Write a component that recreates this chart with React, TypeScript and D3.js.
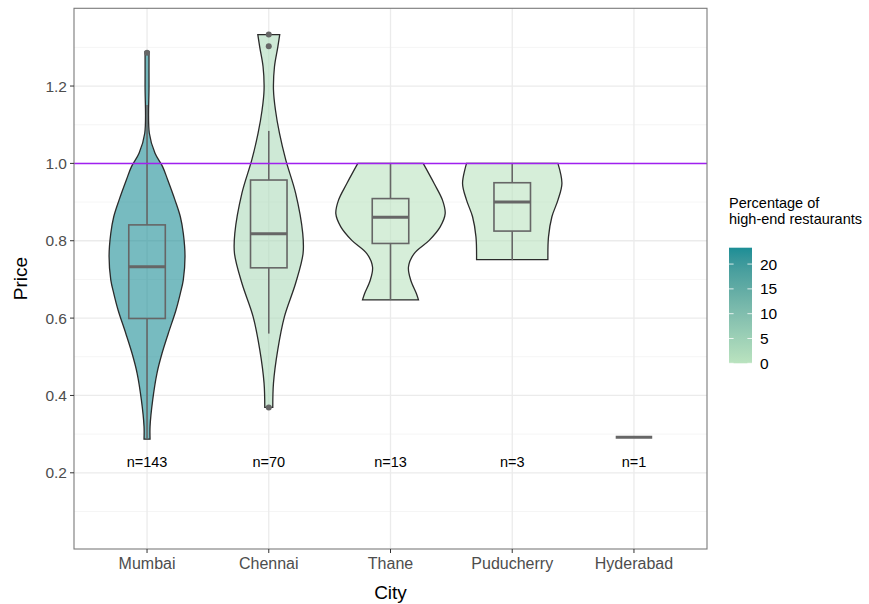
import { useEffect, useRef } from 'react'
import { select, scalePoint, scaleLinear, area, curveCatmullRom, interpolateLab, range } from 'd3'

// data
const cities = ['Mumbai', 'Chennai', 'Thane', 'Puducherry', 'Hyderabad']
const counts = [143, 70, 13, 3, 1]
const pctHighEnd = [23.3, 2.3, 0, 0, 0]
const pctRange = [0, 23.3]
const legendTicks = [0, 5, 10, 15, 20]
const yTicks = [0.2, 0.4, 0.6, 0.8, 1.0, 1.2]
const yMinor = [0.1, 0.3, 0.5, 0.7, 0.9, 1.1, 1.3]
const refLine = 1.0

// [lower whisker, q1, median, q3, upper whisker]
const boxStats = [
  [0.287, 0.599, 0.733, 0.841, 1.151],
  [0.56, 0.73, 0.818, 0.957, 1.084],
  [0.647, 0.793, 0.861, 0.909, 1.0],
  [0.75, 0.825, 0.9, 0.95, 1.0],
  [0.292, 0.292, 0.292, 0.292, 0.292],
]
const outliers = [
  [1.286],
  [1.303, 1.333, 0.369],
  [],
  [],
  [],
]

// violin outlines: [price, relative density]
const mumbaiViolin = [
  [1.289, 0.036], [1.2, 0.036], [1.078, 0.042], [1.026, 0.146], [0.991, 0.286],
  [0.957, 0.378], [0.905, 0.511], [0.862, 0.608], [0.819, 0.662], [0.759, 0.693],
  [0.699, 0.662], [0.664, 0.608], [0.621, 0.529], [0.561, 0.389], [0.509, 0.274],
  [0.458, 0.182], [0.389, 0.104], [0.32, 0.055], [0.287, 0.055],
]
const chennaiViolin = [
  [1.333, 0.2], [1.3, 0.164], [1.25, 0.104], [1.19, 0.086], [1.138, 0.122],
  [1.078, 0.195], [1.009, 0.31], [0.923, 0.49], [0.819, 0.62], [0.767, 0.626],
  [0.69, 0.49], [0.604, 0.286], [0.518, 0.164], [0.432, 0.086], [0.369, 0.073],
]
const thaneViolin = [
  [1.0, 0.597], [0.948, 0.797], [0.905, 0.949], [0.87, 0.998], [0.836, 0.907],
  [0.801, 0.706], [0.767, 0.432], [0.732, 0.328], [0.698, 0.37], [0.663, 0.474],
  [0.647, 0.511],
]
const puducherryViolin = [
  [1.0, 0.834], [0.948, 0.907], [0.905, 0.834], [0.862, 0.724], [0.81, 0.662],
  [0.751, 0.651],
]
const violins = [mumbaiViolin, chennaiViolin, thaneViolin, puducherryViolin, []]

function App() {
  const svg_ref = useRef<SVGSVGElement>(null)
  const width = 869,
        height = 604
  const panel = { left: 74, top: 8.3, right: 707, bottom: 549 }
  const font = '"Liberation Sans", Arial, sans-serif'
  const lowCol = '#bae3bf',
        highCol = '#1c8e96'

  useEffect(() => {
    const svg = select(svg_ref.current)
    svg.selectAll('*').remove()
    svg.attr('width', width).attr('height', height).attr('viewBox', `0 0 ${width} ${height}`)
      .style('font-family', font)

    const x = scalePoint<string>().domain(cities).range([panel.left, panel.right]).padding(0.6)
    const y = scaleLinear([0.003, 1.401], [panel.bottom, panel.top])
    const w = scaleLinear([0, 1], [0, x.step() * 0.45])
    const fillScale = scaleLinear<number>(pctRange, [0, 1])
    const fillOf = (p: number) => interpolateLab(lowCol, highCol)(fillScale(p))

    // panel background + grid
    svg.append('rect')
      .attr('x', panel.left).attr('y', panel.top)
      .attr('width', panel.right - panel.left).attr('height', panel.bottom - panel.top)
      .attr('fill', 'white')

    svg.selectAll('.minor').data(yMinor).join('line')
      .attr('x1', panel.left).attr('x2', panel.right)
      .attr('y1', d => y(d)).attr('y2', d => y(d))
      .attr('stroke', '#f3f3f3').attr('stroke-width', 0.8)
    svg.selectAll('.major').data(yTicks).join('line')
      .attr('x1', panel.left).attr('x2', panel.right)
      .attr('y1', d => y(d)).attr('y2', d => y(d))
      .attr('stroke', '#ebebeb').attr('stroke-width', 1.3)
    svg.selectAll('.vmajor').data(cities).join('line')
      .attr('x1', d => x(d)!).attr('x2', d => x(d)!)
      .attr('y1', panel.top).attr('y2', panel.bottom)
      .attr('stroke', '#ebebeb').attr('stroke-width', 1.3)

    // violins
    const violinArea = area<number[]>()
      .y(d => y(d[0]))
      .curve(curveCatmullRom)
    cities.forEach((c, i) => {
      if (!violins[i].length) return
      const cx = x(c)!
      svg.append('path')
        .attr('d', violinArea.x0(d => cx - w(d[1])).x1(d => cx + w(d[1]))(violins[i]))
        .attr('fill', fillOf(pctHighEnd[i]))
        .attr('fill-opacity', 0.6)
        .attr('stroke', '#2b2b2b')
        .attr('stroke-width', 1.3)
    })

    // boxplots
    const bw = x.step() * 0.3
    cities.forEach((c, i) => {
      const cx = x(c)!
      const [lo, q1, med, q3, hi] = boxStats[i]
      const g = svg.append('g').attr('stroke', '#666666').attr('fill', 'none')
      g.append('line').attr('x1', cx).attr('x2', cx).attr('y1', y(q3)).attr('y2', y(hi)).attr('stroke-width', 1.6)
      g.append('line').attr('x1', cx).attr('x2', cx).attr('y1', y(q1)).attr('y2', y(lo)).attr('stroke-width', 1.6)
      g.append('rect')
        .attr('x', cx - bw / 2).attr('width', bw)
        .attr('y', y(q3)).attr('height', Math.max(0, y(q1) - y(q3)))
        .attr('stroke-width', 1.6)
      g.append('line')
        .attr('x1', cx - bw / 2).attr('x2', cx + bw / 2)
        .attr('y1', y(med)).attr('y2', y(med))
        .attr('stroke-width', 3)
      g.selectAll('circle').data(outliers[i]).join('circle')
        .attr('cx', cx).attr('cy', d => y(d)).attr('r', 3)
        .attr('fill', '#666666').attr('stroke', 'none')
    })

    // reference line
    svg.append('line')
      .attr('x1', panel.left).attr('x2', panel.right)
      .attr('y1', Math.round(y(refLine)) + 0.5).attr('y2', Math.round(y(refLine)) + 0.5)
      .attr('stroke', '#a020f0').attr('stroke-width', 1.5)

    // n labels
    svg.selectAll('.nlab').data(cities).join('text')
      .attr('x', d => x(d)!).attr('y', y(0.228))
      .attr('text-anchor', 'middle').attr('dominant-baseline', 'central')
      .attr('font-size', 14.5).attr('fill', '#000')
      .text((d, i) => `n=${counts[i]}`)

    // border
    svg.append('rect')
      .attr('x', panel.left).attr('y', panel.top)
      .attr('width', panel.right - panel.left).attr('height', panel.bottom - panel.top)
      .attr('fill', 'none').attr('stroke', '#7a7a7a').attr('stroke-width', 1.1)

    // y axis
    const ya = svg.append('g')
    ya.selectAll('line').data(yTicks).join('line')
      .attr('x1', panel.left - 4).attr('x2', panel.left)
      .attr('y1', d => y(d)).attr('y2', d => y(d))
      .attr('stroke', '#333')
    ya.selectAll('text').data(yTicks).join('text')
      .attr('x', panel.left - 7).attr('y', d => y(d))
      .attr('text-anchor', 'end').attr('dominant-baseline', 'central')
      .attr('font-size', 15.5).attr('fill', '#4d4d4d')
      .text(d => d.toFixed(1))

    // x axis
    const xa = svg.append('g')
    xa.selectAll('line').data(cities).join('line')
      .attr('x1', d => x(d)!).attr('x2', d => x(d)!)
      .attr('y1', panel.bottom).attr('y2', panel.bottom + 4)
      .attr('stroke', '#333')
    xa.selectAll('text').data(cities).join('text')
      .attr('x', d => x(d)!).attr('y', panel.bottom + 20)
      .attr('text-anchor', 'middle')
      .attr('font-size', 16).attr('fill', '#4d4d4d')
      .text(d => d)

    svg.append('text')
      .attr('x', (panel.left + panel.right) / 2).attr('y', 599)
      .attr('text-anchor', 'middle').attr('font-size', 19).attr('fill', '#000')
      .text('City')
    svg.append('text')
      .attr('transform', `translate(27, ${(panel.top + panel.bottom) / 2}) rotate(-90)`)
      .attr('text-anchor', 'middle').attr('font-size', 19).attr('fill', '#000')
      .text('Price')

    // legend
    const leg = svg.append('g')
    leg.append('text').attr('x', 729).attr('y', 208).attr('font-size', 14.5).attr('fill', '#000')
      .text('Percentage of')
    leg.append('text').attr('x', 729).attr('y', 224).attr('font-size', 14.5).attr('fill', '#000')
      .text('high-end restaurants')

    const ly = scaleLinear(pctRange, [363.3, 247.7])
    const grad = svg.append('defs').append('linearGradient')
      .attr('id', 'pctgrad').attr('x1', 0).attr('x2', 0).attr('y1', 1).attr('y2', 0)
    grad.selectAll('stop').data(range(0, 1.0001, 0.1)).join('stop')
      .attr('offset', d => d)
      .attr('stop-color', d => interpolateLab(lowCol, highCol)(d))
    leg.append('rect')
      .attr('x', 729).attr('y', ly(pctRange[1]))
      .attr('width', 23).attr('height', ly(pctRange[0]) - ly(pctRange[1]))
      .attr('fill', 'url(#pctgrad)')
    legendTicks.forEach(t => {
      leg.append('line').attr('x1', 729).attr('x2', 733.6).attr('y1', ly(t)).attr('y2', ly(t))
        .attr('stroke', 'white').attr('stroke-width', 0.8)
      leg.append('line').attr('x1', 747.4).attr('x2', 752).attr('y1', ly(t)).attr('y2', ly(t))
        .attr('stroke', 'white').attr('stroke-width', 0.8)
    })
    leg.selectAll('.lt').data(legendTicks).join('text')
      .attr('x', 760).attr('y', d => ly(d))
      .attr('dominant-baseline', 'central')
      .attr('font-size', 15.5).attr('fill', '#000')
      .text(d => d)
  }, [])

  return (
    <svg ref={svg_ref} style={{ position: 'absolute', left: 0, top: 0 }}></svg>
  )
}

export default App
